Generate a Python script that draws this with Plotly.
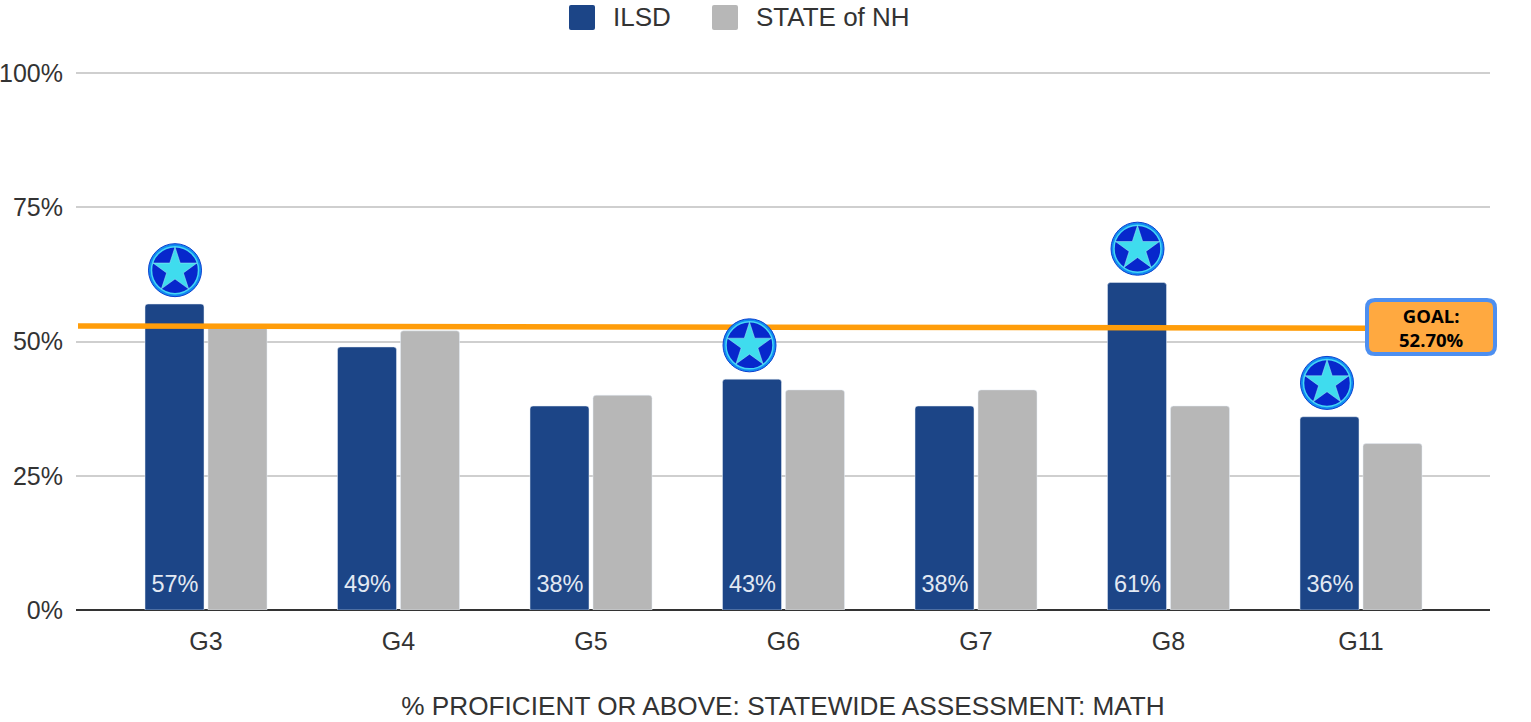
import plotly.graph_objects as go

categories = ["G3", "G4", "G5", "G6", "G7", "G8", "G11"]
ilsd_values = [57, 49, 38, 43, 38, 61, 36]
state_values = [53, 52, 40, 41, 41, 38, 31]
starred = ["G3", "G6", "G8", "G11"]
goal_values = [52.9, 52.5]
goal_label = "<b>GOAL:</b><br><b>52.70%</b>"
series_names = ["ILSD", "STATE of NH"]
y_ticks = [0, 25, 50, 75, 100]
axis_title = "% PROFICIENT OR ABOVE: STATEWIDE ASSESSMENT: MATH"

BLUE, GREY = "#1c4587", "#b7b7b7"
FONT = "Liberation Sans, Arial, sans-serif"
W, H = 1531, 722
L, R, T, B = 76, 41, 71, 112
PW, PH = W - L - R, H - T - B
SLOT = 192.5
Y_TOP = 100.4
xs = list(range(len(categories)))
x_min = -(206 - L) / SLOT
x_max = x_min + PW / SLOT
bar_off = -31 / SLOT
badge_nudge = {"G3": 0, "G6": -3, "G8": 0, "G11": -3}


def fx(p):
    return (p - L) / PW


def fy(p):
    return (H - B - p) / PH


fig = go.Figure()
fig.add_bar(x=xs, y=ilsd_values, name=series_names[0], marker_color=BLUE, showlegend=False)
fig.add_bar(x=xs, y=state_values, name=series_names[1], marker_color=GREY, showlegend=False)

# goal line, under the badges
fig.add_scatter(x=[x_min + 2 / SLOT, 6.03], y=goal_values, mode="lines", name="Goal",
                line=dict(color="#ff9d0a", width=5.5), showlegend=False)

# data labels at the foot of each ILSD bar
fig.add_scatter(x=[i + bar_off for i in xs], y=[4.5] * len(xs), mode="text",
                text=[f"{v}%" for v in ilsd_values],
                textfont=dict(color="#e3e9f3", size=23.5, family=FONT),
                showlegend=False, hoverinfo="skip")

# star badges
bx = [categories.index(c) + bar_off + badge_nudge[c] / SLOT for c in starred]
by = [ilsd_values[categories.index(c)] + 6.3 for c in starred]
fig.add_scatter(x=bx, y=by, mode="markers", showlegend=False, hoverinfo="skip",
                marker=dict(symbol="circle", size=53, color="#118cf0",
                            line=dict(color="#0b3fd0", width=1)))
fig.add_scatter(x=bx, y=by, mode="markers", showlegend=False, hoverinfo="skip",
                marker=dict(symbol="circle", size=47, color="#0727cc",
                            line=dict(color="#45d6f5", width=1.5)))
fig.add_scatter(x=bx, y=by, mode="markers", showlegend=False, hoverinfo="skip",
                marker=dict(symbol="star", size=33, color="#3fdcee",
                            line=dict(color="#a8ecf5", width=0.5)))


def rounded_plot(x0, y0, x1, y1, r):
    X0, X1, Y0, Y1 = fx(x0), fx(x1), fy(y0), fy(y1)
    rx, ry = r / PW, r / PH
    return (f"M{X0+rx},{Y0} L{X1-rx},{Y0} Q{X1},{Y0} {X1},{Y0-ry} L{X1},{Y1+ry} "
            f"Q{X1},{Y1} {X1-rx},{Y1} L{X0+rx},{Y1} Q{X0},{Y1} {X0},{Y1+ry} "
            f"L{X0},{Y0-ry} Q{X0},{Y0} {X0+rx},{Y0} Z")


shapes = [
    dict(type="path", xref="paper", yref="paper", path=rounded_plot(1367, 300, 1495, 354, 8),
         fillcolor="#ffa940", line=dict(color="#4d8ff0", width=4), layer="above"),
    dict(type="path", xref="paper", yref="paper", path=rounded_plot(569, 5, 595, 30, 2),
         fillcolor=BLUE, line=dict(width=0), layer="above"),
    dict(type="path", xref="paper", yref="paper", path=rounded_plot(712, 5, 738, 30, 2),
         fillcolor=GREY, line=dict(width=0), layer="above"),
]
annotations = [
    dict(xref="paper", yref="paper", x=fx(1431), y=fy(327), text=goal_label, showarrow=False,
         font=dict(family="Open Sans, Noto Sans, sans-serif", size=18.5, color="#000000"),
         xanchor="center", yanchor="middle"),
    dict(xref="paper", yref="paper", x=fx(613), y=fy(17), text=series_names[0], showarrow=False,
         font=dict(family=FONT, size=26, color="#333333"), xanchor="left", yanchor="middle", xshift=-2),
    dict(xref="paper", yref="paper", x=fx(756), y=fy(17), text=series_names[1], showarrow=False,
         font=dict(family=FONT, size=26, color="#333333"), xanchor="left", yanchor="middle", xshift=-2),
]

fig.update_layout(
    width=W, height=H, margin=dict(l=L, r=R, t=T, b=B, autoexpand=False),
    paper_bgcolor="white", plot_bgcolor="white",
    barmode="group", bargap=1 - 126 / SLOT, bargroupgap=4 / 63, barcornerradius=3,
    shapes=shapes, annotations=annotations, showlegend=False,
    font=dict(family=FONT, color="#333333"),
    xaxis=dict(range=[x_min, x_max], tickmode="array", tickvals=xs, ticktext=categories,
               showgrid=False, zeroline=False, showline=False, ticks="outside", ticklen=9,
               tickcolor="rgba(0,0,0,0)", tickfont=dict(size=25, color="#333333"),
               title=dict(text=axis_title, standoff=42, font=dict(size=26.2, color="#333333"))),
    yaxis=dict(range=[0, Y_TOP], tickmode="array", tickvals=y_ticks, ticktext=[f"{v}%" for v in y_ticks],
               gridcolor="#cfcfcf", gridwidth=2, zeroline=True, zerolinecolor="#333333", zerolinewidth=2,
               showline=False, ticks="outside", ticklen=7, tickcolor="rgba(0,0,0,0)",
               tickfont=dict(size=25, color="#333333")),
)

fig.write_html("out.html", config={"displayModeBar": False},
               post_script="document.body.style.margin='0';document.documentElement.style.overflow='hidden';")
